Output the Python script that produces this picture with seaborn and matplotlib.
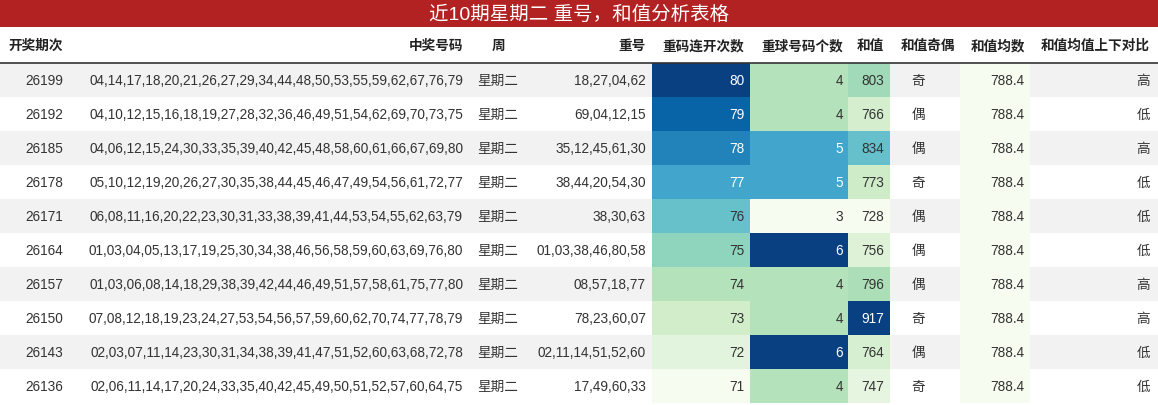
import matplotlib
matplotlib.use("Agg")
import matplotlib.pyplot as plt
import seaborn as sns
import numpy as np
from matplotlib.patches import Rectangle

sns.set_theme(style="white")
plt.rcParams['font.family'] = ['Liberation Sans', 'Noto Sans CJK SC', 'DejaVu Sans']

title = "近10期星期二 重号，和值分析表格"
headers = ["开奖期次", "中奖号码", "周", "重号", "重码连开次数", "重球号码个数", "和值", "和值奇偶", "和值均数", "和值均值上下对比"]
periods = ["26199", "26192", "26185", "26178", "26171", "26164", "26157", "26150", "26143", "26136"]
numbers = [
    "04,14,17,18,20,21,26,27,29,34,44,48,50,53,55,59,62,67,76,79",
    "04,10,12,15,16,18,19,27,28,32,36,46,49,51,54,62,69,70,73,75",
    "04,06,12,15,24,30,33,35,39,40,42,45,48,58,60,61,66,67,69,80",
    "05,10,12,19,20,26,27,30,35,38,44,45,46,47,49,54,56,61,72,77",
    "06,08,11,16,20,22,23,30,31,33,38,39,41,44,53,54,55,62,63,79",
    "01,03,04,05,13,17,19,25,30,34,38,46,56,58,59,60,63,69,76,80",
    "01,03,06,08,14,18,29,38,39,42,44,46,49,51,57,58,61,75,77,80",
    "07,08,12,18,19,23,24,27,53,54,56,57,59,60,62,70,74,77,78,79",
    "02,03,07,11,14,23,30,31,34,38,39,41,47,51,52,60,63,68,72,78",
    "02,06,11,14,17,20,24,33,35,40,42,45,49,50,51,52,57,60,64,75",
]
weekday = ["星期二"] * 10
repeats = ["18,27,04,62", "69,04,12,15", "35,12,45,61,30", "38,44,20,54,30", "38,30,63",
           "01,03,38,46,80,58", "08,57,18,77", "78,23,60,07", "02,11,14,51,52,60", "17,49,60,33"]
streak = [80, 79, 78, 77, 76, 75, 74, 73, 72, 71]
rep_count = [4, 4, 5, 5, 3, 6, 4, 4, 6, 4]
sums = [803, 766, 834, 773, 728, 756, 796, 917, 764, 747]
parity = ["奇", "偶", "偶", "奇", "偶", "偶", "偶", "奇", "偶", "奇"]
sum_mean = [788.4] * 10
compare = ["高", "低", "高", "低", "低", "低", "高", "高", "低", "低"]

W, H = 1158, 406
fig = plt.figure(figsize=(W / 100, H / 100), dpi=100)
ax = fig.add_axes([0, 0, 1, 1])
ax.set_xlim(0, W); ax.set_ylim(H, 0); ax.axis("off")

top, hh, rh = 28, 36, 34
y0 = top + hh
cmap = sns.color_palette("GnBu", as_cmap=True)

ax.add_patch(Rectangle((0, 0), W, top, color="#b22222", lw=0))
ax.text(W / 2, top / 2 + 1, title, color="white", fontsize=14, ha="center", va="center")
ax.plot([0, W], [y0, y0], color="#333333", lw=1.2)
for i in range(10):
    if i % 2 == 0:
        ax.add_patch(Rectangle((0, y0 + i * rh), W, rh, color="#f2f2f2", lw=0))

# heatmap columns
heat_cols = [(652, 750, streak, None, None), (750, 848, rep_count, None, None),
             (848, 890, sums, None, None), (960, 1030, sum_mean, 788.4, 900)]
for x0, x1, vals, vmin, vmax in heat_cols:
    hax = fig.add_axes([x0 / W, 1 - (y0 + 10 * rh) / H, (x1 - x0) / W, 10 * rh / H])
    sns.heatmap(np.array(vals, dtype=float).reshape(-1, 1), ax=hax, cmap=cmap, cbar=False,
                vmin=vmin, vmax=vmax, xticklabels=False, yticklabels=False)
    hax.set_zorder(0)
ax.set_zorder(1); ax.patch.set_visible(False)
# redraw gray bg below: put gray bands on a background axes
bg = fig.add_axes([0, 0, 1, 1], zorder=-1)
bg.set_xlim(0, W); bg.set_ylim(H, 0); bg.axis("off")
for p in list(ax.patches)[1:]:
    p.remove(); bg.add_patch(p)

fs = 9.8
hdr = [(8, "left"), (463, "right"), (498, "center"), (646, "right"), (744, "right"),
       (843, "right"), (884, "right"), (955, "right"), (1025, "right"), (1150, "right")]
for (x, ha), h in zip(hdr, headers):
    ax.text(x, top + hh / 2, h, fontsize=fs, fontweight="bold", ha=ha, va="center", color="#222222")

def tc(v, lo, hi):
    t = (v - lo) / (hi - lo) if hi > lo else 0
    return "white" if t > 0.6 else "#333333"

for i in range(10):
    y = y0 + i * rh + rh / 2
    kw = dict(fontsize=fs, va="center")
    ax.text(63, y, periods[i], ha="right", color="#333333", **kw)
    ax.text(463, y, numbers[i], ha="right", color="#333333", **kw)
    ax.text(498, y, weekday[i], ha="center", color="#333333", **kw)
    ax.text(646, y, repeats[i], ha="right", color="#333333", **kw)
    ax.text(744, y, str(streak[i]), ha="right", color=tc(streak[i], 71, 80), **kw)
    ax.text(843, y, str(rep_count[i]), ha="right", color=tc(rep_count[i], 3, 6), **kw)
    ax.text(884, y, str(sums[i]), ha="right", color=tc(sums[i], 728, 917), **kw)
    ax.text(925, y, parity[i], ha="right", color="#333333", **kw)
    ax.text(1024, y, f"{sum_mean[i]:.1f}", ha="right", color="#333333", **kw)
    ax.text(1150, y, compare[i], ha="right", color="#333333", **kw)

fig.savefig("out.png", dpi=100)
